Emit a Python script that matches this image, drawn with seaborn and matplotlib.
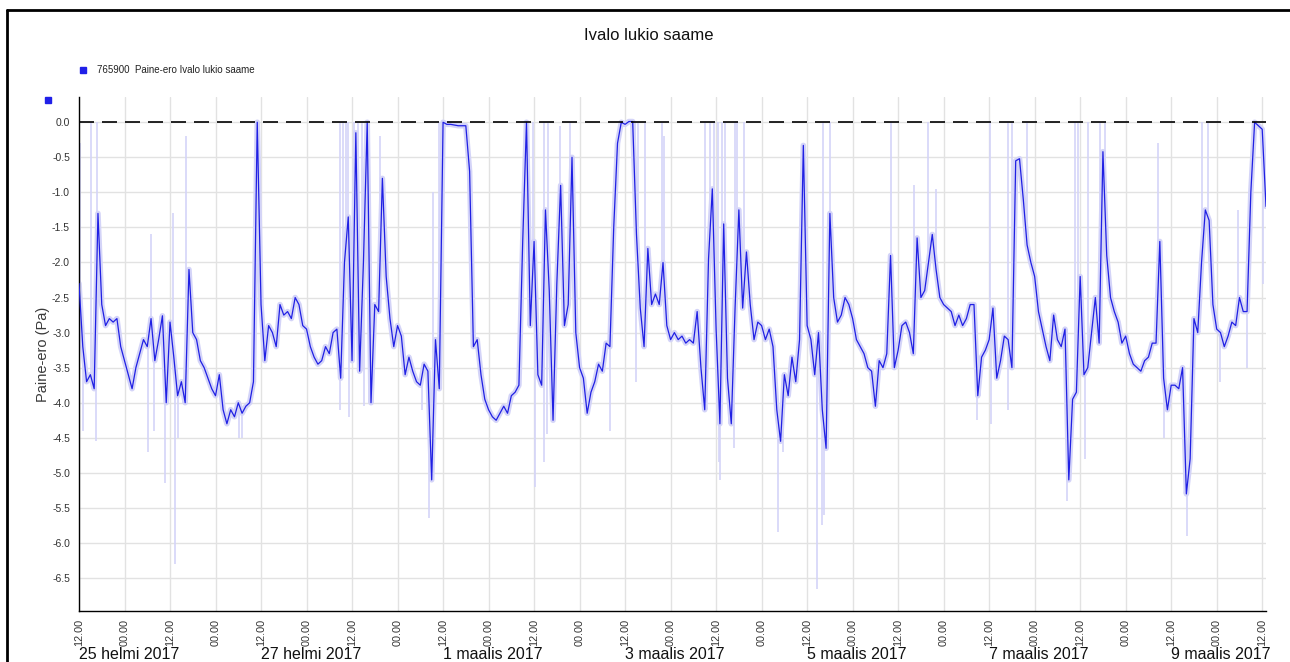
import numpy as np
import pandas as pd
import matplotlib
matplotlib.use('Agg')
import matplotlib.pyplot as plt
import matplotlib.dates as mdates
from matplotlib.ticker import MultipleLocator, FormatStrFormatter
from matplotlib.lines import Line2D
import seaborn as sns

# hourly pressure difference (Pa), starting 25.2.2017 12:00
pressure = [
    -2.3, -3.2, -3.7, -3.6, -3.8, -1.3, -2.6, -2.9, -2.8, -2.85, -2.8, -3.2,
    -3.4, -3.6, -3.8, -3.5, -3.3, -3.1, -3.2, -2.8, -3.4, -3.1, -2.76, -4.0,
    -2.85, -3.35, -3.9, -3.7, -4.0, -2.1, -3.0, -3.1, -3.4, -3.5, -3.65, -3.8,
    -3.9, -3.6, -4.1, -4.3, -4.1, -4.2, -4.0, -4.15, -4.05, -4.0, -3.7, 0.0,
    -2.6, -3.4, -2.9, -3.0, -3.2, -2.6, -2.75, -2.7, -2.8, -2.5, -2.6, -2.9,
    -2.95, -3.2, -3.35, -3.45, -3.4, -3.2, -3.3, -3.0, -2.95, -3.65, -2.0, -1.35,
    -3.4, -0.15, -3.55, -2.0, 0.0, -4.0, -2.6, -2.7, -0.8, -2.2, -2.8, -3.2,
    -2.9, -3.05, -3.6, -3.35, -3.55, -3.7, -3.75, -3.45, -3.55, -5.1, -3.1, -3.8,
    0.0, -0.03, -0.03, -0.04, -0.05, -0.05, -0.05, -0.7, -3.2, -3.1, -3.6, -3.95,
    -4.1, -4.2, -4.25, -4.15, -4.05, -4.15, -3.9, -3.85, -3.75, -1.7, 0.0, -2.9,
    -1.7, -3.6, -3.75, -1.25, -2.4, -4.25, -2.3, -0.9, -2.9, -2.6, -0.5, -3.0,
    -3.5, -3.65, -4.15, -3.85, -3.7, -3.45, -3.55, -3.15, -3.2, -1.5, -0.3, 0.0,
    -0.03, 0.01, 0.01, -1.6, -2.65, -3.2, -1.8, -2.6, -2.45, -2.6, -2.0, -2.9,
    -3.1, -3.0, -3.1, -3.05, -3.15, -3.1, -3.15, -2.7, -3.5, -4.1, -1.95, -0.95,
    -2.95, -4.3, -1.45, -3.65, -4.3, -2.65, -1.25, -2.65, -1.85, -2.6, -3.1, -2.85,
    -2.9, -3.1, -2.95, -3.2, -4.1, -4.55, -3.6, -3.9, -3.35, -3.7, -3.1, -0.33,
    -2.9, -3.1, -3.6, -3.0, -4.1, -4.65, -1.3, -2.5, -2.85, -2.75, -2.5, -2.6,
    -2.8, -3.1, -3.2, -3.3, -3.5, -3.55, -4.05, -3.4, -3.5, -3.3, -1.9, -3.5,
    -3.25, -2.9, -2.85, -3.0, -3.3, -1.65, -2.5, -2.4, -2.0, -1.6, -2.1, -2.5,
    -2.6, -2.65, -2.7, -2.9, -2.75, -2.9, -2.8, -2.6, -2.6, -3.9, -3.35, -3.25,
    -3.1, -2.65, -3.65, -3.4, -3.05, -3.1, -3.5, -0.55, -0.52, -1.1, -1.75, -2.0,
    -2.2, -2.7, -2.95, -3.2, -3.4, -2.75, -3.1, -3.2, -2.95, -5.1, -3.95, -3.85,
    -2.2, -3.6, -3.5, -3.0, -2.5, -3.15, -0.42, -1.9, -2.5, -2.7, -2.85, -3.15,
    -3.05, -3.3, -3.45, -3.5, -3.55, -3.4, -3.35, -3.15, -3.15, -1.7, -3.65, -4.1,
    -3.75, -3.75, -3.8, -3.5, -5.3, -4.8, -2.8, -3.0, -2.0, -1.25, -1.4, -2.6,
    -2.95, -3.0, -3.2, -3.05, -2.85, -2.9, -2.5, -2.7, -2.7, -1.0, 0.0, -0.05,
    -0.1, -1.2,
]

# short min/max excursions (hours from start, Pa)
spike_hours = [0.2, 1, 3.2, 4.5, 4.8, 18.2, 18.9, 19.7, 22.8, 24.7, 25.2, 26, 28.3,
               42.1, 43, 68.8, 68.9, 69.5, 70.5, 71.0, 71.2, 72.4, 73.5, 74.5, 75.2,
               79.4, 90.4, 92.3, 93.4, 95, 96.3, 119.8, 120.3, 122.5, 122.7, 123.3,
               123.6, 126.8, 129.5, 140, 146.6, 146.8, 147.5, 149.2, 153.7, 154.3,
               165.1, 166.3, 167.5, 168.6, 168.7, 169, 169.5, 170.4, 172.8, 173,
               173.4, 175.4, 184.4, 185.7, 194.5, 195.8, 196.3, 196.5, 198, 214,
               220.3, 224, 226, 236.7, 240.3, 240.5, 244.9, 245, 246, 249.9, 260.5,
               262.7, 263.5, 265.3, 266, 269.3, 270.5, 284.6, 286.2, 292.3, 296,
               297.8, 300.9, 305.7, 308, 312.3]
spike_values = [-0.3, -4.4, 0.0, -4.55, 0.0, -4.7, -1.6, -4.4, -5.15, -1.3, -6.3, -4.5, -0.2,
                -4.5, -4.5, 0.0, -4.1, 0.0, 0.0, 0.0, -4.2, 0.0, 0.0, 0.0, -4.05,
                -0.2, -4.1, -5.65, -1.0, 0.0, 0.0, 0.0, -5.2, 0.0, -4.85, -4.45,
                0.0, -0.05, 0.0, -4.4, 0.0, -3.7, 0.0, 0.0, 0.0, -0.2,
                0.0, 0.0, 0.0, 0.0, -4.85, -5.1, 0.0, 0.0, -4.65, 0.0,
                0.0, 0.0, -5.85, -4.7, -6.65, -5.75, 0.0, -5.6, 0.0, 0.0,
                -0.9, 0.0, -0.95, -4.25, 0.0, -4.3, -4.1, 0.0, 0.0, 0.0, -5.4,
                0.0, 0.0, -4.8, 0.0, 0.0, 0.0, -0.3, -4.5, -5.9, 0.0,
                0.0, -3.7, -1.25, -3.5, -2.3]

date_labels = ['25 helmi 2017', '27 helmi 2017', '1 maalis 2017', '3 maalis 2017',
               '5 maalis 2017', '7 maalis 2017', '9 maalis 2017']

W, H = 1290, 662
dark = '#2020e4'
light = '#d4d4f8'

sns.set_style('white')
plt.rcParams['font.family'] = ['Liberation Sans', 'DejaVu Sans']
plt.rcParams['axes.unicode_minus'] = False

start = pd.Timestamp('2017-02-25 12:00')
hours = np.arange(len(pressure))
df = pd.DataFrame({'time': start + pd.to_timedelta(hours, unit='h'), 'pa': pressure})

fig = plt.figure(figsize=(W / 100, H / 100), dpi=100)
ax = fig.add_axes([79 / W, 1 - 611 / H, (1266 - 79) / W, (611 - 97) / H])

# light envelope, spikes, then the main line
sns.lineplot(data=df, x='time', y='pa', color=light, linewidth=4, ax=ax, zorder=2)
spike_t = start + pd.to_timedelta(spike_hours, unit='h')
base = np.interp(spike_hours, hours, pressure)
ax.vlines(spike_t, base, spike_values, color=light, lw=1.2, zorder=2)
sns.lineplot(data=df, x='time', y='pa', color=dark, linewidth=0.9, ax=ax, zorder=3)

ax.axhline(0, color='black', lw=1.2, dashes=(9, 4.8), zorder=4)

ax.set_xlim(start, start + pd.Timedelta(hours=313))
ax.set_ylim(-6.97, 0.36)

ax.yaxis.set_major_locator(MultipleLocator(0.5))
ax.yaxis.set_minor_locator(MultipleLocator(0.25))
ax.yaxis.set_major_formatter(FormatStrFormatter('%.1f'))
ax.xaxis.set_major_locator(mdates.HourLocator(byhour=[0, 12]))
ax.xaxis.set_minor_locator(mdates.HourLocator(byhour=[6, 18]))
ax.xaxis.set_major_formatter(mdates.DateFormatter('%H.%M'))

ax.grid(True, which='major', color='#e2e2e2', lw=1, zorder=0)
ax.set_axisbelow(True)
for s in ['top', 'right']:
    ax.spines[s].set_visible(False)
for s in ['left', 'bottom']:
    ax.spines[s].set_color('black')
    ax.spines[s].set_linewidth(1)

ax.tick_params(which='major', direction='out', length=5, width=1, color='black',
               labelsize=7.5, labelcolor='#333333', pad=1.5)
ax.tick_params(which='minor', direction='out', length=3, width=1, color='black')
ax.tick_params(axis='x', labelrotation=90, labelsize=7.8, pad=1)

ax.set_xlabel('')
ax.set_ylabel('Paine-ero (Pa)', fontsize=10.5, color='#3a3a3a')
ax.yaxis.set_label_coords((50 - 79) / (1266 - 79), 0.5)

for i, lab in enumerate(date_labels):
    ax.text(start + pd.Timedelta(days=2 * i), (611 - 647) / (611 - 97), lab,
            transform=ax.get_xaxis_transform(), ha='left', va='top',
            fontsize=11.5, color='#111111')

fig.text(649 / W, 1 - 36 / H, 'Ivalo lukio saame', ha='center', va='center',
         fontsize=12, color='#111111')
fig.add_artist(Line2D([83 / W], [1 - 70 / H], marker='s', markersize=4,
                      color='#2020e8', lw=0))
fig.text(97 / W, 1 - 70 / H, '765900  Paine-ero Ivalo lukio saame', ha='left',
         va='center', fontsize=7, color='#222222')
fig.add_artist(Line2D([48 / W], [1 - 100 / H], marker='s', markersize=4,
                      color='#2020e8', lw=0))

# outer frame of the chart window
fig.add_artist(Line2D([7 / W, 1], [1 - 10 / H, 1 - 10 / H], color='black', lw=2))
fig.add_artist(Line2D([7 / W, 7 / W], [0, 1 - 10 / H], color='black', lw=2))

fig.savefig('out.png', dpi=100)
